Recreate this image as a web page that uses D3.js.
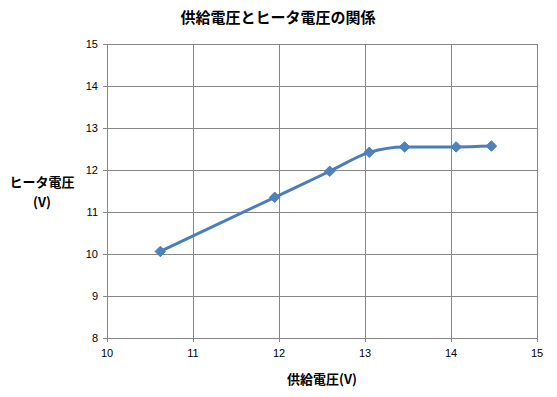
<!DOCTYPE html>
<html>
<head>
<meta charset="utf-8">
<script src="https://cdn.jsdelivr.net/npm/d3@7"></script>
<style>
  body { margin: 0; background: #fff; }
  text { font-family: "Liberation Sans", sans-serif; }
  .jp { font-family: "Noto Sans CJK JP", sans-serif; font-weight: bold; }
</style>
</head>
<body>
<div id="chart"></div>
<script>
// chart data
const supplyV = [10.62, 11.95, 12.59, 13.05, 13.46, 14.06, 14.47]
const heaterV = [10.06, 11.35, 11.97, 12.42, 12.55, 12.55, 12.57]
const xTicks = [10, 11, 12, 13, 14, 15]
const yTicks = [8, 9, 10, 11, 12, 13, 14, 15]

const width = 557
const height = 397
const margin = { left: 107, right: 20, top: 44, bottom: 59 }

const svg = d3.select('#chart').append('svg')
  .attr('width', width)
  .attr('height', height)

const x = d3.scaleLinear().domain([10, 15]).range([margin.left, width - margin.right])
const y = d3.scaleLinear().domain([8, 15]).range([height - margin.bottom, margin.top])

// grid lines
const grid = svg.append('g').attr('class', 'grid')
grid.selectAll('.hline').data(yTicks).enter().append('line')
  .attr('x1', x(10) - 4).attr('x2', x(15))
  .attr('y1', d => Math.round(y(d)) + 0.5).attr('y2', d => Math.round(y(d)) + 0.5)
  .style('stroke', '#868686').style('stroke-width', 1)
grid.selectAll('.vline').data(xTicks).enter().append('line')
  .attr('y1', y(8) + 4).attr('y2', y(15))
  .attr('x1', d => Math.round(x(d)) + 0.5).attr('x2', d => Math.round(x(d)) + 0.5)
  .style('stroke', '#868686').style('stroke-width', 1)

// tick labels
svg.append('g').selectAll('text').data(yTicks).enter().append('text')
  .attr('x', x(10) - 9).attr('y', d => y(d) + 4)
  .attr('text-anchor', 'end')
  .style('font-size', '11px').style('fill', '#000')
  .text(d => d)
svg.append('g').selectAll('text').data(xTicks).enter().append('text')
  .attr('x', d => x(d)).attr('y', y(8) + 19)
  .attr('text-anchor', 'middle')
  .style('font-size', '11px').style('fill', '#000')
  .text(d => d)

// series line
const pts = supplyV.map((v, i) => [v, heaterV[i]])
const line = d3.line().x(d => x(d[0])).y(d => y(d[1])).curve(d3.curveMonotoneX)
svg.append('path').datum(pts)
  .attr('d', line)
  .style('fill', 'none')
  .style('stroke', '#4a7ebb')
  .style('stroke-width', 3)
  .style('stroke-linejoin', 'round')

// markers
const diamond = d3.symbol().type(d3.symbolDiamond2).size(70)
svg.append('g').selectAll('path').data(pts).enter().append('path')
  .attr('d', diamond)
  .attr('transform', d => `translate(${x(d[0])},${y(d[1])})`)
  .style('fill', '#4f81bd')
  .style('stroke', '#4a7ebb')
  .style('stroke-width', 1)

// titles
svg.append('text').attr('class', 'jp')
  .attr('x', 278).attr('y', 23)
  .attr('text-anchor', 'middle')
  .style('font-size', '15px')
  .text('供給電圧とヒータ電圧の関係')
svg.append('text').attr('class', 'jp')
  .attr('x', 322).attr('y', 384)
  .attr('text-anchor', 'middle')
  .style('font-size', '13px')
  .text('供給電圧(V)')
svg.append('text').attr('class', 'jp')
  .attr('x', 42).attr('y', 187)
  .attr('text-anchor', 'middle')
  .style('font-size', '13px')
  .text('ヒータ電圧')
svg.append('text').attr('class', 'jp')
  .attr('x', 42).attr('y', 207)
  .attr('text-anchor', 'middle')
  .style('font-size', '13px')
  .text('(V)')
</script>
</body>
</html>
